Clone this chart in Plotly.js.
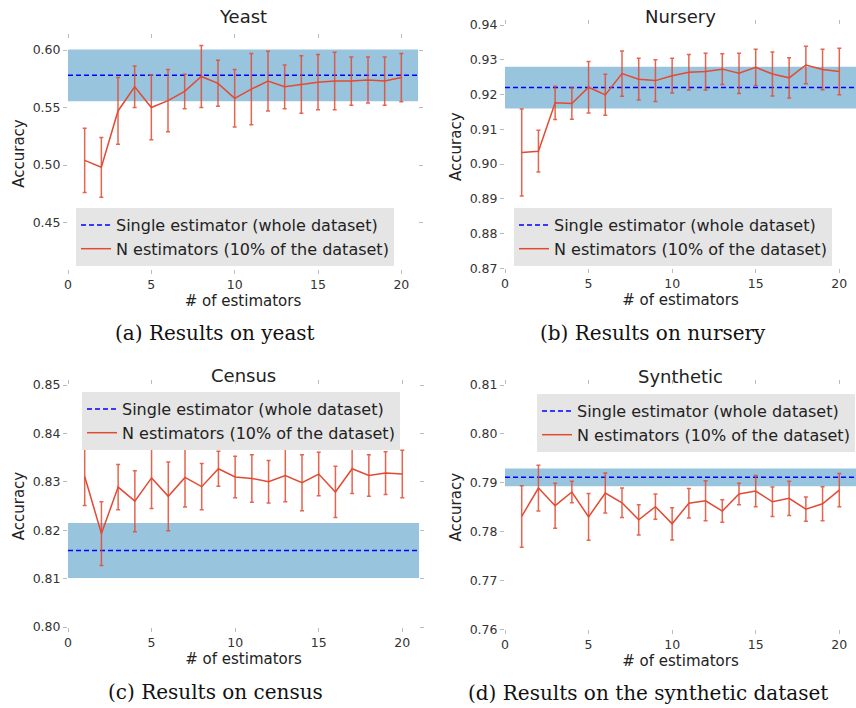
<!DOCTYPE html>
<html><head><meta charset="utf-8">
<script src="https://cdn.plot.ly/plotly-3.0.1.min.js"></script>
<style>html,body{margin:0;padding:0;background:#fff;} #chart{width:856px;height:708px;}</style>
</head><body><div id="chart"></div>
<script>
const estimators = [1,2,3,4,5,6,7,8,9,10,11,12,13,14,15,16,17,18,19,20];
const panelTitles = ['Yeast','Nursery','Census','Synthetic'];
const captions = ['(a) Results on yeast','(b) Results on nursery','(c) Results on census','(d) Results on the synthetic dataset'];
const singleLabel = 'Single estimator (whole dataset)';
const nLabel = 'N estimators (10% of the dataset)';
const xLabel = '# of estimators';
const yLabel = 'Accuracy';

const yeastMean = [0.504,0.498,0.547,0.568,0.550,0.556,0.564,0.577,0.571,0.558,0.566,0.573,0.568,0.570,0.572,0.573,0.573,0.574,0.573,0.576];
const yeastStd  = [0.028,0.026,0.029,0.018,0.028,0.027,0.015,0.027,0.020,0.025,0.031,0.026,0.019,0.025,0.024,0.025,0.021,0.020,0.021,0.021];
const nurseryMean = [0.9033,0.9037,0.9176,0.9174,0.9221,0.9199,0.9260,0.9244,0.9240,0.9254,0.9264,0.9266,0.9273,0.9261,0.9278,0.9259,0.9248,0.9285,0.9272,0.9266];
const nurseryStd  = [0.0125,0.0060,0.0048,0.0045,0.0074,0.0059,0.0065,0.0060,0.0060,0.0050,0.0051,0.0053,0.0044,0.0058,0.0052,0.0063,0.0058,0.0054,0.0058,0.0067];
const censusMean = [0.8311,0.8193,0.8289,0.8260,0.8308,0.8270,0.8309,0.8290,0.8327,0.8310,0.8307,0.8300,0.8313,0.8298,0.8316,0.8279,0.8327,0.8313,0.8318,0.8316];
const censusStd  = [0.0060,0.0066,0.0047,0.0063,0.0063,0.0071,0.0061,0.0048,0.0036,0.0043,0.0049,0.0044,0.0054,0.0058,0.0045,0.0053,0.0051,0.0043,0.0044,0.0049];
const syntheticMean = [0.7831,0.7889,0.7853,0.7881,0.7830,0.7879,0.7859,0.7824,0.7851,0.7816,0.7858,0.7863,0.7842,0.7877,0.7883,0.7861,0.7868,0.7846,0.7857,0.7885];
const syntheticStd  = [0.0063,0.0047,0.0046,0.0022,0.0048,0.0041,0.0030,0.0031,0.0026,0.0033,0.0030,0.0041,0.0023,0.0022,0.0032,0.0030,0.0035,0.0025,0.0035,0.0034];
const singleAcc = [0.578, 0.922, 0.8158, 0.7911];
const singleStd = [0.0225, 0.006, 0.0057, 0.0018];
const yRanges = [[0.41,0.61],[0.87,0.94],[0.80,0.85],[0.76,0.81]];
const yTicks = [[0.45,0.50,0.55,0.60],[0.87,0.88,0.89,0.90,0.91,0.92,0.93,0.94],[0.80,0.81,0.82,0.83,0.84,0.85],[0.76,0.77,0.78,0.79,0.80,0.81]];
const xTicks = [0,5,10,15,20];
const means = [yeastMean, nurseryMean, censusMean, syntheticMean];
const stds = [yeastStd, nurseryStd, censusStd, syntheticStd];

const W = 856, H = 708;
// pixel boxes of each plot area [left, right, top, bottom]
const boxes = [[68,418,38.5,268.5],[505,856,25,268.3],[68,419,385,627],[505,856,385,629.3]];
// legend top-left pixel
const legPos = [[76,208],[514,208],[82,392],[537,394]];
const capPos = [[215,333],[653,333],[216,692],[648,693]];
const titleY = [17,17,375,377];

const RED = '#E24A33';
const tickFont = {family:'DejaVu Sans', size:12.5, color:'#333'};
const traces = [], shapes = [], annotations = [];
const layout = {width:W, height:H, margin:{l:0,r:0,t:0,b:0}, paper_bgcolor:'#fff', plot_bgcolor:'#fff', showlegend:true, font:{family:'DejaVu Sans', color:'#222'}};

for (let i=0;i<4;i++){
  const s = i===0 ? '' : String(i+1);
  const [l,r,t,b] = boxes[i];
  const xa = 'xaxis'+s, ya = 'yaxis'+s, xr = 'x'+s, yr = 'y'+s;
  const leg = 'legend'+s;
  layout[xa] = {domain:[l/W, r/W], anchor:yr, range:[0,21], tickvals:xTicks, ticks:'outside', ticklen:4, tickcolor:'#bbb', tickwidth:1,
    mirror:'ticks', showline:false, showgrid:false, zeroline:false, tickfont:tickFont,
    title:{text:xLabel, font:{family:'DejaVu Sans', size:15, color:'#222'}, standoff:3}};
  layout[ya] = {domain:[1-b/H, 1-t/H], anchor:xr, range:yRanges[i], tickvals:yTicks[i], tickformat:'.2f', ticks:'outside', ticklen:4, tickcolor:'#bbb', tickwidth:1,
    mirror:'ticks', showline:false, showgrid:false, zeroline:false, tickfont:tickFont,
    title:{text:yLabel, font:{family:'DejaVu Sans', size:15, color:'#222'}, standoff:4}};
  layout[leg] = {x:legPos[i][0]/W, y:1-legPos[i][1]/H, xanchor:'left', yanchor:'top', bgcolor:'#e5e5e5', borderwidth:0,
    font:{family:'DejaVu Sans', size:16, color:'#222'}, tracegroupgap:0};
  shapes.push({type:'rect', xref:xr, yref:yr, x0:0, x1:21, y0:singleAcc[i]-singleStd[i], y1:singleAcc[i]+singleStd[i],
    fillcolor:'rgba(52,138,189,0.5)', line:{width:0}, layer:'below'});
  traces.push({type:'scatter', mode:'lines', x:[0,21], y:[singleAcc[i], singleAcc[i]], xaxis:xr, yaxis:yr, legend:leg,
    name:singleLabel, line:{color:'#0000ff', width:1.5, dash:'5px,3px'}, hoverinfo:'skip'});
  traces.push({type:'scatter', mode:'lines', x:estimators, y:means[i], xaxis:xr, yaxis:yr, legend:leg,
    name:nLabel, line:{color:RED, width:1.5},
    error_y:{type:'data', array:stds[i], visible:true, color:'rgba(226,74,51,0.85)', thickness:1.5, width:2}});
  annotations.push({xref:'paper', yref:'paper', x:(l+r)/2/W, y:1-titleY[i]/H, xanchor:'center', yanchor:'middle', showarrow:false,
    text:panelTitles[i], font:{family:'DejaVu Sans', size:18, color:'#222'}});
  annotations.push({xref:'paper', yref:'paper', x:capPos[i][0]/W, y:1-capPos[i][1]/H, xanchor:'center', yanchor:'middle', showarrow:false,
    text:captions[i], font:{family:'DejaVu Serif', size:20, color:'#111'}});
}
layout.shapes = shapes;
layout.annotations = annotations;
Plotly.newPlot('chart', traces, layout, {displayModeBar:false, staticPlot:true});
</script></body></html>
